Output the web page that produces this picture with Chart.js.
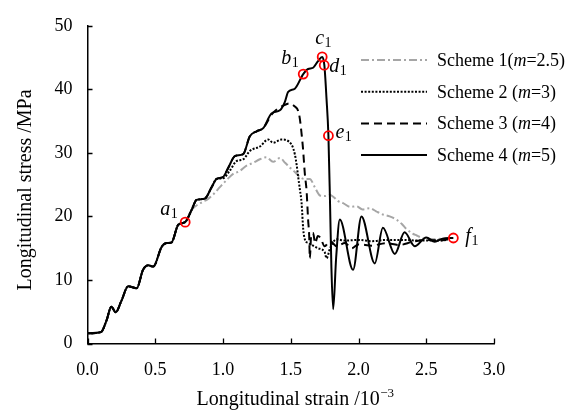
<!DOCTYPE html>
<html>
<head>
<meta charset="utf-8">
<script src="https://cdn.jsdelivr.net/npm/chart.js@4/dist/chart.umd.min.js"></script>
<style>
  html, body { margin: 0; padding: 0; background: #fff; }
</style>
</head>
<body>
<canvas id="stressChart" width="576" height="410"></canvas>
<script>
// common rising branch (all schemes share it until they split off)
const riseStrain = [0, 0.10, 0.14, 0.176, 0.208, 0.25, 0.30, 0.363, 0.41, 0.449, 0.485, 0.547, 0.584, 0.62, 0.67, 0.72, 0.768, 0.805, 0.866, 0.916, 0.953, 1.0, 1.04, 1.088, 1.149, 1.198, 1.248, 1.297];
const riseStress = [1.6, 1.8, 3.6, 5.8, 4.9, 6.7, 9.0, 8.7, 11.6, 12.3, 12.1, 15.2, 15.8, 15.9, 18.7, 19.1, 21.0, 22.6, 22.8, 24.6, 25.9, 26.2, 27.7, 29.5, 29.8, 32.6, 33.4, 33.9];

// Scheme 1 (m=2.5)
const s1Split = 0.768;
const s1Strain = [0.85, 0.88, 0.93, 0.977, 1.03, 1.075, 1.12, 1.174, 1.22, 1.272, 1.32, 1.37, 1.42, 1.46, 1.493, 1.53, 1.567, 1.60, 1.64, 1.68, 1.715, 1.75, 1.788, 1.813, 1.85, 1.886, 1.94, 1.985, 2.03, 2.083, 2.13, 2.18, 2.23, 2.28, 2.32, 2.354, 2.40, 2.43, 2.47, 2.50, 2.55, 2.62, 2.66];
const s1Stress = [22.3, 22.6, 23.5, 24.6, 25.8, 26.7, 27.1, 28.0, 28.4, 29.0, 29.3, 28.6, 29.2, 28.4, 27.7, 27.0, 26.2, 25.9, 25.9, 24.5, 23.3, 23.2, 23.4, 23.1, 22.4, 22.1, 21.5, 21.6, 21.1, 21.3, 20.8, 20.3, 20.0, 19.5, 18.8, 18.0, 17.3, 17.0, 16.6, 16.5, 16.4, 16.5, 16.6];

// Scheme 2 (m=3)
const s2Split = 0.953;
const s2Strain = [1.0, 1.05, 1.10, 1.15, 1.198, 1.272, 1.333, 1.37, 1.432, 1.506, 1.53, 1.543, 1.555, 1.567, 1.58, 1.592, 1.604, 1.63, 1.665, 1.70, 1.75, 1.764, 1.79, 1.838, 1.9, 2.0, 2.1, 2.2, 2.33, 2.45, 2.575, 2.66];
const s2Stress = [26.0, 27.2, 28.7, 29.0, 30.3, 31.0, 32.1, 31.6, 32.1, 31.3, 29.8, 28.2, 26.2, 24.3, 22.1, 18.0, 16.4, 15.8, 15.4, 15.0, 14.4, 13.4, 15.0, 16.4, 16.2, 16.3, 16.1, 16.3, 16.3, 16.2, 16.2, 16.3];

// Scheme 3 (m=4)
const s3Split = 1.297;
const s3Strain = [1.358, 1.40, 1.45, 1.49, 1.53, 1.555, 1.567, 1.58, 1.59, 1.604, 1.617, 1.628, 1.636, 1.641, 1.65, 1.665, 1.68, 1.70, 1.72, 1.75, 1.79, 1.84, 1.90, 1.95, 2.0, 2.1, 2.2, 2.3, 2.4, 2.5, 2.6, 2.66];
const s3Stress = [36.0, 36.9, 37.5, 37.8, 37.3, 36.6, 35.4, 33.0, 30.8, 26.7, 24.0, 19.5, 17.0, 13.4, 16.8, 17.4, 15.8, 16.9, 16.6, 15.3, 16.1, 15.3, 15.8, 15.0, 15.6, 15.4, 15.8, 15.5, 16.0, 16.3, 16.2, 16.4];

// Scheme 4 (m=5)
const s4Split = 1.297;
const s4Strain = [1.358, 1.42, 1.456, 1.481, 1.53, 1.592, 1.628, 1.665, 1.70, 1.732, 1.748, 1.764, 1.778, 1.79, 1.80, 1.813, 1.835, 1.862, 1.96, 2.022, 2.12, 2.18, 2.268, 2.34, 2.415, 2.50, 2.563, 2.62, 2.70];
const s4Stress = [36.2, 36.7, 38.0, 39.6, 40.1, 42.4, 43.2, 43.4, 44.4, 45.1, 43.8, 38.5, 32.7, 22.0, 12.0, 5.4, 13.5, 19.5, 11.6, 20.0, 12.6, 18.2, 14.1, 17.5, 15.3, 16.7, 16.0, 16.5, 16.6];

// marked points a1 .. f1 on scheme 4
const markerNames = ['a', 'b', 'c', 'd', 'e', 'f'];
const markerStrain = [0.721, 1.592, 1.732, 1.747, 1.778, 2.70];
const markerStress = [19.1, 42.4, 45.1, 43.8, 32.7, 16.6];

const schemeNames = [['Scheme 1(', '=2.5)'], ['Scheme 2 (', '=3)'], ['Scheme 3 (', '=4)'], ['Scheme 4 (', '=5)']];

const FONT = "'Liberation Serif', 'Times New Roman', serif";

function buildSeries(split, strain, stress) {
    const pts = [];
    riseStrain.forEach((x, i) => {
        if (x <= split) pts.push({ x: x, y: riseStress[i] });
    });
    strain.forEach((x, i) => pts.push({ x: x, y: stress[i] }));
    return pts;
}

const lineStyles = [
    { color: '#a6a6a6', dash: [8, 3, 2, 3], width: 2 },
    { color: '#000', dash: [2, 1.6], width: 2 },
    { color: '#000', dash: [8, 5], width: 2 },
    { color: '#000', dash: [], width: 2 }
];

// offsets of the a1..f1 labels from their circles
const labelOffsets = [[-25, -7], [-22, -10], [-7, -13], [5, 7], [7, 2], [12, 4]];

const extrasPlugin = {
    id: 'extras',
    afterDraw(chart) {
        const ctx = chart.ctx;
        const xs = chart.scales.x, ys = chart.scales.y;
        const area = chart.chartArea;
        ctx.save();

        // inward tick marks
        ctx.strokeStyle = '#000';
        ctx.lineWidth = 1.3;
        ctx.setLineDash([]);
        ctx.beginPath();
        xs.ticks.forEach(t => {
            const px = Math.round(xs.getPixelForValue(t.value)) + 0.5;
            ctx.moveTo(px, area.bottom);
            ctx.lineTo(px, area.bottom - 5);
        });
        ys.ticks.forEach(t => {
            const py = Math.round(ys.getPixelForValue(t.value)) + 0.5;
            ctx.moveTo(area.left, py);
            ctx.lineTo(area.left + 5, py);
        });
        ctx.stroke();

        ctx.fillStyle = '#000';
        ctx.textBaseline = 'alphabetic';

        // x axis title with superscript
        ctx.font = '20px ' + FONT;
        const main = 'Longitudinal strain /10';
        const wMain = ctx.measureText(main).width;
        ctx.font = '13px ' + FONT;
        const sup = '\u22123';
        const wSup = ctx.measureText(sup).width;
        let tx = 295 - (wMain + wSup) / 2;
        ctx.font = '20px ' + FONT;
        ctx.textAlign = 'left';
        ctx.fillText(main, tx, 405);
        ctx.font = '13px ' + FONT;
        ctx.fillText(sup, tx + wMain + 0.5, 397);

        // y axis title
        ctx.save();
        ctx.translate(31, 190);
        ctx.rotate(-Math.PI / 2);
        ctx.font = '20px ' + FONT;
        ctx.textAlign = 'center';
        ctx.fillText('Longitudinal stress /MPa', 0, 0);
        ctx.restore();

        // legend
        ctx.textAlign = 'left';
        schemeNames.forEach((parts, i) => {
            const y = 60 + i * 31.7;
            const st = lineStyles[i];
            ctx.strokeStyle = st.color;
            ctx.lineWidth = st.width;
            ctx.setLineDash(st.dash);
            ctx.beginPath();
            ctx.moveTo(361, y);
            ctx.lineTo(427, y);
            ctx.stroke();
            ctx.setLineDash([]);
            let x = 437;
            const base = y + 6;
            ctx.font = '18px ' + FONT;
            ctx.fillText(parts[0], x, base);
            x += ctx.measureText(parts[0]).width;
            ctx.font = 'italic 18px ' + FONT;
            ctx.fillText('m', x, base);
            x += ctx.measureText('m').width;
            ctx.font = '18px ' + FONT;
            ctx.fillText(parts[1], x, base);
        });

        // point labels
        markerNames.forEach((n, i) => {
            const px = xs.getPixelForValue(markerStrain[i]) + labelOffsets[i][0];
            const py = ys.getPixelForValue(markerStress[i]) + labelOffsets[i][1];
            ctx.font = 'italic 20px ' + FONT;
            ctx.fillText(n, px, py);
            const w = ctx.measureText(n).width;
            ctx.font = '14px ' + FONT;
            ctx.fillText('1', px + w + 0.5, py + 3);
        });
        ctx.restore();
    }
};

const datasets = [{
    data: markerStrain.map((x, i) => ({ x: x, y: markerStress[i] })),
    showLine: false,
    pointRadius: 4.5,
    pointBorderWidth: 1.8,
    pointBorderColor: '#ff0000',
    pointBackgroundColor: 'rgba(0,0,0,0)',
    clip: false
}];
const splits = [s1Split, s2Split, s3Split, s4Split];
const strains = [s1Strain, s2Strain, s3Strain, s4Strain];
const stresses = [s1Stress, s2Stress, s3Stress, s4Stress];
// scheme 4 first so it is painted on top
for (let i = 3; i >= 0; i--) {
    datasets.push({
        data: buildSeries(splits[i], strains[i], stresses[i]),
        showLine: true,
        borderColor: lineStyles[i].color,
        borderWidth: lineStyles[i].width,
        borderDash: lineStyles[i].dash,
        pointRadius: 0,
        cubicInterpolationMode: 'monotone',
        fill: false
    });
}

const tickFont = { family: FONT, size: 18 };

new Chart(document.getElementById('stressChart').getContext('2d'), {
    type: 'scatter',
    data: { datasets: datasets },
    options: {
        responsive: false,
        animation: false,
        devicePixelRatio: 1,
        layout: { padding: { top: 18, right: 82, bottom: 0, left: 0 } },
        plugins: { legend: { display: false }, tooltip: { enabled: false } },
        scales: {
            x: {
                type: 'linear',
                min: 0,
                max: 3,
                afterFit: s => { s.height = 66.5; },
                grid: { display: false, drawTicks: false },
                border: { display: true, color: '#000', width: 1.5 },
                ticks: {
                    stepSize: 0.5,
                    padding: 16,
                    color: '#000',
                    font: tickFont,
                    maxRotation: 0,
                    autoSkip: false,
                    callback: v => v.toFixed(1)
                }
            },
            y: {
                min: 0,
                max: 50,
                afterFit: s => { s.width = 87.5; },
                grid: { display: false, drawTicks: false },
                border: { display: true, color: '#000', width: 1.5 },
                ticks: {
                    stepSize: 10,
                    padding: 15,
                    color: '#000',
                    font: tickFont
                }
            }
        }
    },
    plugins: [extrasPlugin]
});
</script>
</body>
</html>
